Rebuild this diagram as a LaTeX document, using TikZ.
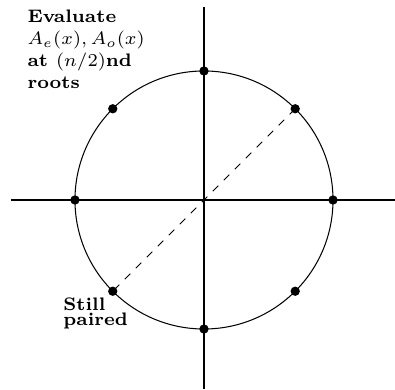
\documentclass[tikz,border=0pt]{standalone}
\begin{document}
\begin{tikzpicture}[scale=1]
\useasboundingbox (-2.767,-2.564) rectangle (2.591,2.713);
\draw(-2.62,0)--(2.6,0);
\draw(0,-2.56)--(0,2.62);
\draw(0,0) circle (1.75);
\foreach \k in {0,...,7}{
  \coordinate (r\k) at (45*\k:1.75);
  \fill (r\k) circle (1.8pt);
}
\draw[dashed](r1)--(r5);
\node[anchor=north west,inner sep=0pt,align=left,font={\fontsize{7}{8.46}\selectfont\bfseries}] (eval) at (-2.40,2.585) {Evaluate\\$A_e(x),A_o(x)$\\at $(n/2)$nd\\roots};
\node[anchor=north west,inner sep=0pt,align=left,font={\fontsize{7}{5.9}\selectfont\bfseries\lineskiplimit=-10pt\relax}] (pair) at (-1.913,-1.315) {Still\\paired};
\end{tikzpicture}
\end{document}
